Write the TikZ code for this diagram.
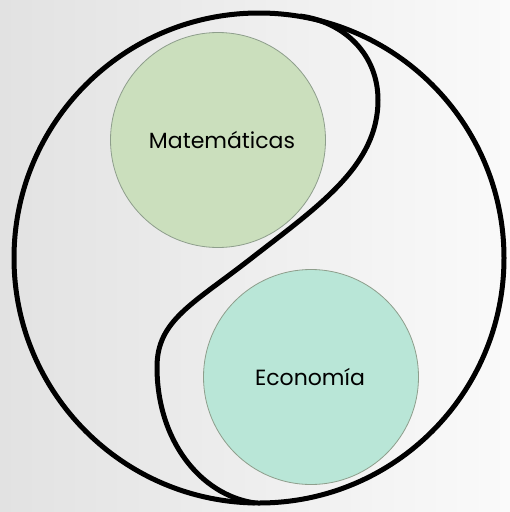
\documentclass[tikz,border=0pt]{standalone}
\usepackage{fontspec}
\setmainfont{Poppins}
\definecolor{bgL}{HTML}{E2E2E2}
\definecolor{bgR}{HTML}{FAFAFA}
\definecolor{matfill}{HTML}{CBDFBD}
\definecolor{ecofill}{HTML}{B9E6D7}
\definecolor{ringedge}{HTML}{8E9E8C}
\tikzset{
  blob/.style={circle, draw=ringedge, line width=0.8pt, minimum size=215pt, inner sep=0pt, font=\fontsize{22}{26}\selectfont},
  heavy/.style={draw=black, line width=5pt}
}
\begin{document}
\begin{tikzpicture}[x=1pt,y=-1pt]
\shade[left color=bgL, right color=bgR] (0,0) rectangle (510,512);
\useasboundingbox (0,0) rectangle (510,512);
\node[blob, fill=matfill] (mat) at (218,140) {};
\node[font=\fontsize{22}{26}\selectfont] (matlabel) at (222,140) {Matemáticas};
\node[blob, fill=ecofill] (eco) at (311,377) {};
\node[font=\fontsize{22}{26}\selectfont] (ecolabel) at (310,377) {Economía};
\draw[heavy] (259,258) circle (245);
\coordinate (stop) at (300,16);
\coordinate (sright) at (378,100);
\coordinate (smid) at (253,257);
\coordinate (sleft) at (157,367);
\coordinate (sbot) at (255,503);
\draw[heavy] (stop) .. controls (345,22) and (378,55) .. (sright)
  .. controls (378,165) and (320,205) .. (smid)
  .. controls (193,304) and (157,320) .. (sleft)
  .. controls (157,440) and (200,495) .. (sbot);
\end{tikzpicture}
\end{document}
